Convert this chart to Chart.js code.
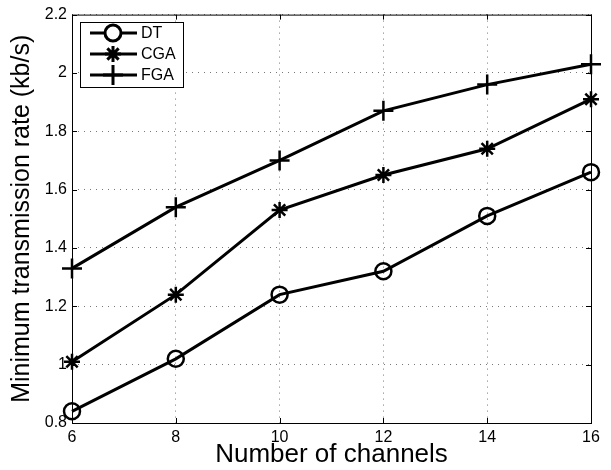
<!DOCTYPE html>
<html>
<head>
<meta charset="utf-8">
<script src="https://cdn.jsdelivr.net/npm/chart.js@4"></script>
<style>
  html, body { margin: 0; padding: 0; background: #fff; }
  #wrap { width: 611px; height: 470px; }
</style>
</head>
<body>
<div id="wrap"><canvas id="rateChart" width="611" height="470"></canvas></div>
<script>
var channels = [6, 8, 10, 12, 14, 16];
var dtRate  = [0.84, 1.02, 1.24, 1.32, 1.51, 1.66];
var cgaRate = [1.01, 1.24, 1.53, 1.65, 1.74, 1.91];
var fgaRate = [1.33, 1.54, 1.70, 1.87, 1.96, 2.03];
var seriesNames = ["DT", "CGA", "FGA"];
var yTicks = [0.8, 1, 1.2, 1.4, 1.6, 1.8, 2, 2.2];

function toPoints(vals) {
  return vals.map(function (v, i) { return { x: channels[i], y: v }; });
}

// frame + inward ticks + legend box, matlab style
var framePlugin = {
  id: 'frame',
  afterDatasetsDraw: function (chart) {
    var ctx = chart.ctx, a = chart.chartArea;
    var xs = chart.scales.x, ys = chart.scales.y;
    ctx.save();
    ctx.strokeStyle = '#000';
    ctx.lineWidth = 1;
    ctx.strokeRect(a.left + 0.5, a.top + 0.5, a.right - a.left, a.bottom - a.top);
    ctx.beginPath();
    channels.forEach(function (c) {
      var px = Math.round(xs.getPixelForValue(c)) + 0.5;
      ctx.moveTo(px, a.bottom); ctx.lineTo(px, a.bottom - 5);
      ctx.moveTo(px, a.top); ctx.lineTo(px, a.top + 5);
    });
    yTicks.forEach(function (t) {
      var py = Math.round(ys.getPixelForValue(t)) + 0.5;
      ctx.moveTo(a.left, py); ctx.lineTo(a.left + 5, py);
      ctx.moveTo(a.right, py); ctx.lineTo(a.right - 5, py);
    });
    ctx.stroke();

    // legend
    var bx = 80, by = 22, bw = 103, bh = 65;
    ctx.fillStyle = '#fff';
    ctx.fillRect(bx, by, bw, bh);
    ctx.strokeRect(bx + 0.5, by + 0.5, bw, bh);
    ctx.font = '16px "Liberation Sans", Arial, sans-serif';
    ctx.textBaseline = 'middle';
    chart.data.datasets.forEach(function (ds, i) {
      var ly = 33 + i * 21;
      ctx.lineWidth = 3;
      ctx.strokeStyle = '#000';
      ctx.beginPath();
      ctx.moveTo(90, ly); ctx.lineTo(137, ly);
      ctx.stroke();
      Chart.helpers.drawPoint(ctx, {
        pointStyle: ds.pointStyle,
        radius: ds.pointRadius,
        borderWidth: ds.pointBorderWidth,
        rotation: 0
      }, 113, ly);
      ctx.fillStyle = '#000';
      ctx.fillText(ds.label, 141, ly + 1);
    });
    ctx.restore();
  }
};

function makeSet(label, vals, style, r) {
  return {
    label: label,
    data: toPoints(vals),
    borderColor: '#000',
    backgroundColor: 'rgba(0,0,0,0)',
    borderWidth: 3,
    pointStyle: style,
    pointRadius: r,
    pointHoverRadius: r,
    pointBorderWidth: 2.5,
    pointBorderColor: '#000',
    pointBackgroundColor: 'rgba(0,0,0,0)',
    tension: 0,
    clip: false
  };
}

var fontFam = '"Liberation Sans", Arial, sans-serif';

new Chart(document.getElementById('rateChart'), {
  type: 'line',
  data: {
    datasets: [
      makeSet(seriesNames[0], dtRate, 'circle', 8),
      makeSet(seriesNames[1], cgaRate, 'star', 8),
      makeSet(seriesNames[2], fgaRate, 'cross', 10)
    ]
  },
  options: {
    responsive: false,
    animation: false,
    devicePixelRatio: 1,
    layout: { padding: { left: 0, right: 20, top: 14, bottom: 0 } },
    plugins: { legend: { display: false }, tooltip: { enabled: false } },
    scales: {
      x: {
        type: 'linear',
        min: 6, max: 16,
        afterBuildTicks: function (s) { s.ticks = channels.map(function (v) { return { value: v }; }); },
        afterFit: function (s) { s.height = 47; },
        grid: { color: '#777', drawTicks: false },
        border: { display: false, dash: [1, 5] },
        ticks: { color: '#000', padding: 5, autoSkip: false, maxRotation: 0,
                 callback: function (v) { return String(v); },
                 font: { size: 16, family: fontFam } },
        title: { display: true, text: 'Number of channels', color: '#000', padding: { top: 0, bottom: 0 },
                 font: { size: 26, family: fontFam } }
      },
      y: {
        type: 'linear',
        min: 0.8, max: 2.2,
        afterBuildTicks: function (s) { s.ticks = yTicks.map(function (v) { return { value: v }; }); },
        afterFit: function (s) { s.width = 72; },
        grid: { color: '#777', drawTicks: false },
        border: { display: false, dash: [1, 5] },
        ticks: { color: '#000', padding: 5, autoSkip: false,
                 callback: function (v) { return String(Math.round(v * 10) / 10); },
                 font: { size: 16, family: fontFam } },
        title: { display: true, text: 'Minimum transmission rate (kb/s)', color: '#000', padding: { top: 7, bottom: 0 },
                 font: { size: 25, family: fontFam } }
      }
    }
  },
  plugins: [framePlugin]
});
</script>
</body>
</html>
